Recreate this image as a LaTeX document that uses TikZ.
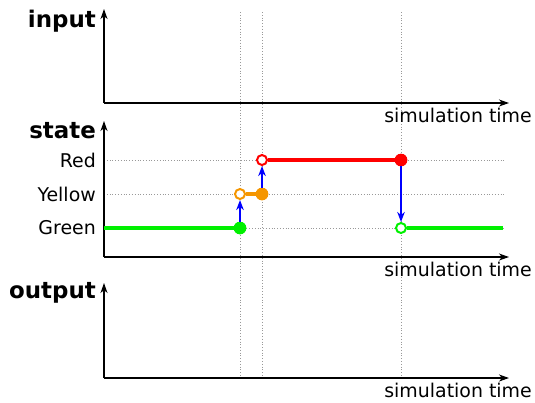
\documentclass[tikz,border=0pt]{standalone}
\usepackage{fontspec}
\setmainfont{DejaVu Sans}
\usetikzlibrary{arrows.meta}
\begin{document}
\begin{tikzpicture}[x=1bp,y=-1bp,
  axis/.style={line width=1.3bp,-{Stealth[length=10bp,width=7bp,inset=3bp]}},
  guide/.style={gray!80,line width=0.8bp,dotted},
  sig/.style={line width=3.5bp},
  fdot/.style={circle,inner sep=0pt,minimum size=12.5bp},
  odot/.style={circle,inner sep=0pt,minimum size=10bp,line width=2bp,fill=white},
  trans/.style={blue,line width=1.6bp,-{Stealth[length=10bp,width=7.5bp,inset=3bp]}},
  axlabel/.style={font=\fontsize{19}{21}\selectfont},
  title/.style={font=\fontsize{23}{25}\selectfont\bfseries,anchor=base east,inner sep=0pt}
]
\definecolor{sgreen}{RGB}{0,240,0}
\definecolor{sorange}{RGB}{245,150,0}
\definecolor{sred}{RGB}{255,0,0}
\useasboundingbox (0,0) rectangle (535,402);
% guide lines
\coordinate (t1top) at (240,12); \coordinate (t1bot) at (240,378);
\coordinate (t2top) at (262,12); \coordinate (t2bot) at (262,378);
\coordinate (t3top) at (401,12); \coordinate (t3bot) at (401,378);
\draw[guide] (t1top) -- (t1bot);
\draw[guide] (t2top) -- (t2bot);
\draw[guide] (t3top) -- (t3bot);
% level lines
\coordinate (redL) at (104,160); \coordinate (redR) at (505,160);
\coordinate (yelL) at (104,194); \coordinate (yelR) at (505,194);
\coordinate (grnL) at (104,228); \coordinate (grnR) at (505,228);
\draw[guide] (redL) -- (redR);
\draw[guide] (yelL) -- (yelR);
\draw[guide] (grnL) -- (grnR);
% axes
\coordinate (o1) at (104,103); \coordinate (y1) at (104,9); \coordinate (x1) at (509,103);
\coordinate (o2) at (104,257); \coordinate (y2) at (104,121); \coordinate (x2) at (509,257);
\coordinate (o3) at (104,378); \coordinate (y3) at (104,283); \coordinate (x3) at (509,378);
\draw[axis] (o1) -- (y1);
\draw[axis] (o1) -- (x1);
\draw[axis] (o2) -- (y2);
\draw[axis] (o2) -- (x2);
\draw[axis] (o3) -- (y3);
\draw[axis] (o3) -- (x3);
% titles
\node[title] (tin) at (96,27) {input};
\node[title] (tst) at (96,138) {state};
\node[title] (tout) at (96,298) {output};
% axis labels
\node[axlabel,anchor=base east,inner sep=0pt] (st1) at (532,122) {simulation time};
\node[axlabel,anchor=base east,inner sep=0pt] (st2) at (532,276) {simulation time};
\node[axlabel,anchor=base east,inner sep=0pt] (st3) at (532,397) {simulation time};
% level names
\node[axlabel,anchor=east,inner sep=0pt] (lred) at (96,160) {Red};
\node[axlabel,anchor=east,inner sep=0pt] (lyel) at (96,194) {Yellow};
\node[axlabel,anchor=east,inner sep=0pt] (lgrn) at (96,228) {Green};
% signal
\coordinate (gstart) at (104,228);
\coordinate (gend) at (503,228);
\node[fdot,fill=sgreen] (g1) at (240,228) {};
\node[odot,draw=sorange] (y1o) at (240,194) {};
\node[fdot,fill=sorange] (y1f) at (262,194) {};
\node[odot,draw=sred] (r1o) at (262,160) {};
\node[fdot,fill=sred] (r1f) at (401,160) {};
\node[odot,draw=sgreen] (g2o) at (401,228) {};
\draw[sig,sgreen] (gstart) -- (g1.center);
\draw[sig,sgreen] (g2o.east) -- (gend);
\draw[sig,sorange] (y1o.east) -- (y1f.center);
\draw[sig,sred] (r1o.east) -- (r1f.center);
\node[fdot,fill=sgreen] at (g1) {};
\node[fdot,fill=sorange] at (y1f) {};
\node[fdot,fill=sred] at (r1f) {};
% transitions
\draw[trans] (g1.north) -- (y1o.south);
\draw[trans] (y1f.north) -- (r1o.south);
\draw[trans] (r1f.south) -- (g2o.north);
\end{tikzpicture}
\end{document}
